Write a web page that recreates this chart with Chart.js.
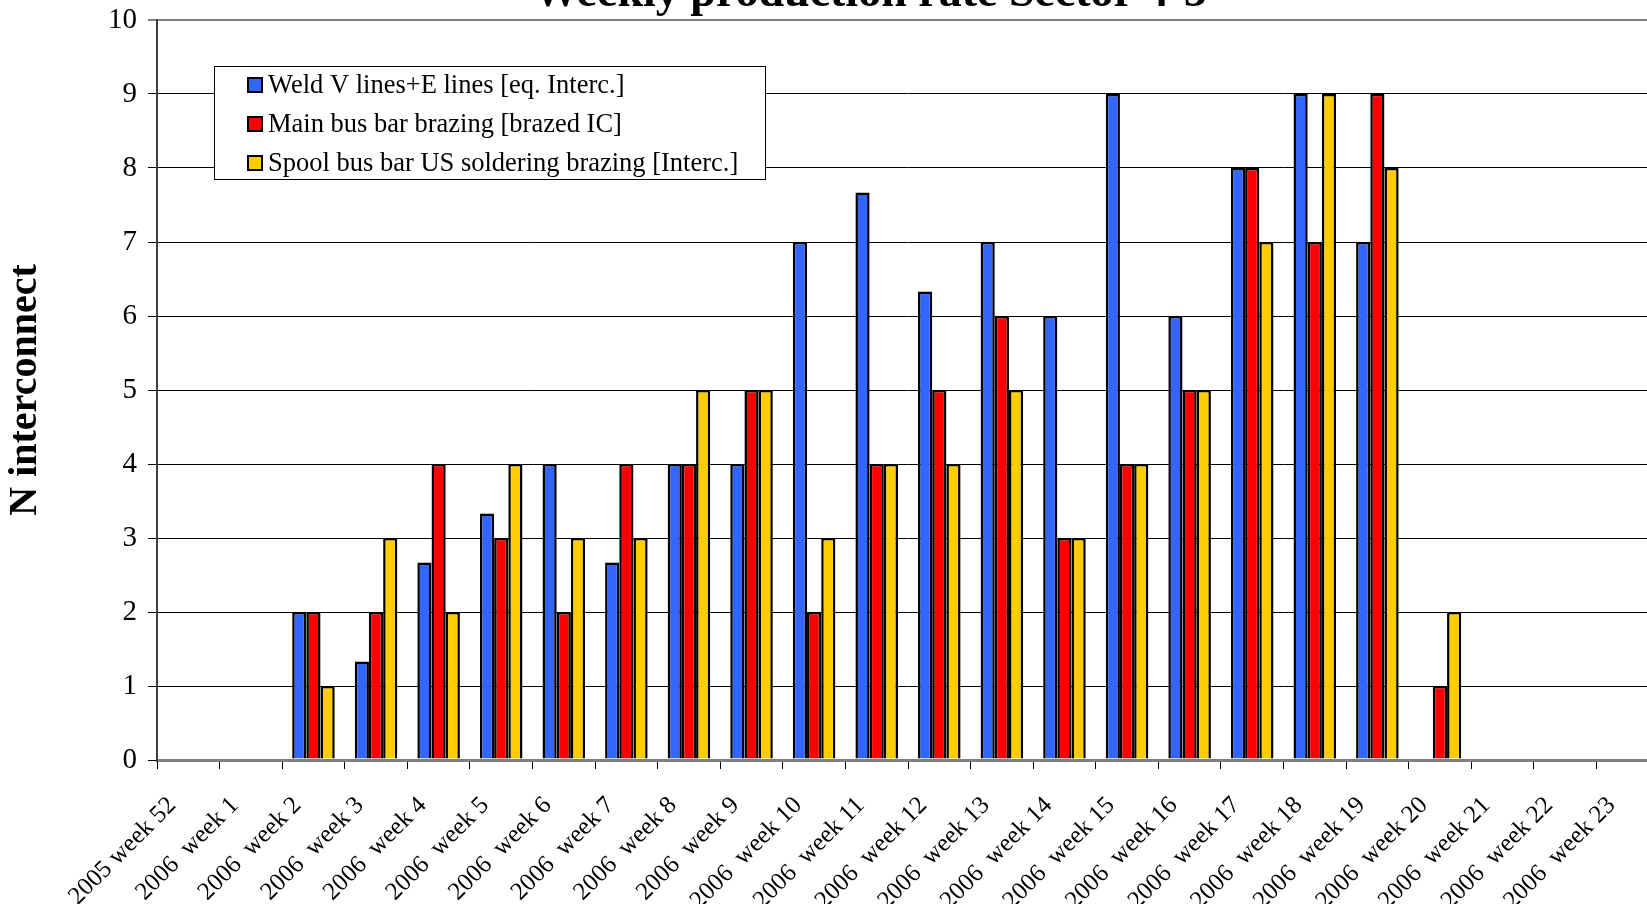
<!DOCTYPE html>
<html>
<head>
<meta charset="utf-8">
<title>Weekly production rate Sector 4-5</title>
<script src="https://cdn.jsdelivr.net/npm/chart.js@4"></script>
<style>
    html, body {
        margin: 0;
        padding: 0;
        background: #fff;
        overflow: hidden;
    }
    #frame {
        width: 1647px;
        height: 904px;
        overflow: hidden;
        position: relative;
    }
    #box {
        position: absolute;
        left: 0;
        top: 0;
        width: 1680px;
        height: 904px;
    }
</style>
</head>
<body>
<div id="frame">
    <div id="box"><canvas id="rate"></canvas></div>
</div>
<script>
const weeks = [
    "2005 week 52", "2006  week 1", "2006  week 2", "2006  week 3", "2006  week 4",
    "2006  week 5", "2006  week 6", "2006  week 7", "2006  week 8", "2006  week 9",
    "2006  week 10", "2006  week 11", "2006  week 12", "2006  week 13", "2006  week 14",
    "2006  week 15", "2006  week 16", "2006  week 17", "2006  week 18", "2006  week 19",
    "2006  week 20", "2006  week 21", "2006  week 22", "2006  week 23"
];

const weldLines = [0, 0, 2, 1.33, 2.67, 3.33, 4, 2.67, 4, 4, 7, 7.67, 6.33, 7, 6, 9, 6, 8, 9, 7, 0, 0, 0, 0];
const mainBusBar = [0, 0, 2, 2, 4, 3, 2, 4, 4, 5, 2, 4, 5, 6, 3, 4, 5, 8, 7, 9, 1, 0, 0, 0];
const spoolBusBar = [0, 0, 1, 3, 2, 4, 3, 3, 5, 5, 3, 4, 4, 5, 3, 4, 5, 7, 9, 8, 2, 0, 0, 0];

const yTicks = [0, 1, 2, 3, 4, 5, 6, 7, 8, 9, 10];

const SERIF = "'Liberation Serif', 'Times New Roman', serif";

// title sits partly above the top edge, like the cropped original
const titlePlugin = {
    id: "cutTitle",
    afterDraw(chart) {
        const ctx = chart.ctx;
        ctx.save();
        ctx.font = "bold 46px " + SERIF;
        ctx.fillStyle = "#000";
        ctx.textAlign = "center";
        ctx.textBaseline = "alphabetic";
        ctx.fillText("Weekly production rate Sector 4-5", 870, 6);
        ctx.restore();
    }
};

// boxed legend inside the plot area
const boxLegend = {
    id: "boxLegend",
    afterDatasetsDraw(chart) {
        const ctx = chart.ctx;
        const sets = chart.data.datasets;
        ctx.save();
        ctx.fillStyle = "#fff";
        ctx.fillRect(214, 66, 551, 113);
        ctx.strokeStyle = "#000";
        ctx.lineWidth = 1;
        ctx.strokeRect(214.5, 66.5, 551, 113);

        ctx.font = "26.5px " + SERIF;
        ctx.textBaseline = "middle";
        ctx.textAlign = "left";
        for (let i = 0; i < sets.length; i++) {
            const cy = 85 + i * 39;
            ctx.fillStyle = sets[i].backgroundColor;
            ctx.fillRect(248, cy - 7, 14, 14);
            ctx.lineWidth = 2;
            ctx.strokeStyle = "#000";
            ctx.strokeRect(248, cy - 7, 14, 14);
            ctx.fillStyle = "#000";
            ctx.fillText(sets[i].label, 268, cy + 1);
        }
        ctx.restore();
    }
};

const ctx = document.getElementById("rate").getContext("2d");

new Chart(ctx, {
    type: "bar",
    data: {
        labels: weeks,
        datasets: [{
            label: "Weld V lines+E lines [eq. Interc.]",
            data: weldLines,
            backgroundColor: "#3366FF",
            borderColor: "#000",
            borderWidth: 2.5,
        }, {
            label: "Main bus bar brazing [brazed IC]",
            data: mainBusBar,
            backgroundColor: "#FF0000",
            borderColor: "#000",
            borderWidth: 2.5,
        }, {
            label: "Spool bus bar US soldering brazing [Interc.]",
            data: spoolBusBar,
            backgroundColor: "#FFCC00",
            borderColor: "#000",
            borderWidth: 2.5,
        }]
    },
    options: {
        responsive: true,
        maintainAspectRatio: false,
        animation: false,
        devicePixelRatio: 1,
        layout: {
            padding: { top: 20, right: 21, bottom: 0, left: 0 }
        },
        datasets: {
            bar: {
                categoryPercentage: 0.68,
                barPercentage: 1.0,
            }
        },
        plugins: {
            legend: { display: false },
            title: { display: false },
            tooltip: { enabled: false },
        },
        scales: {
            x: {
                grid: {
                    drawOnChartArea: false,
                    drawTicks: true,
                    tickLength: 9,
                    tickColor: "#000",
                    tickWidth: 1,
                },
                border: { display: false },
                ticks: {
                    autoSkip: false,
                    maxRotation: 45,
                    minRotation: 45,
                    padding: 22,
                    labelOffset: -16,
                    color: "#000",
                    font: { family: SERIF, size: 25 },
                },
                afterFit: (scale) => { scale.height = 144; }
            },
            y: {
                min: 0,
                max: 10,
                afterBuildTicks: (scale) => {
                    scale.ticks = yTicks.map(v => ({ value: v }));
                },
                grid: {
                    color: (c) => (c.tick && (c.tick.value === 0 || c.tick.value === 10)) ? "#808080" : "#000",
                    lineWidth: (c) => {
                        if (!c.tick) return 1;
                        if (c.tick.value === 0) return 3;
                        if (c.tick.value === 10) return 2;
                        return 1;
                    },
                    tickLength: 9,
                    tickColor: "#000",
                    tickWidth: 1,
                },
                border: { color: "#404040", width: 2 },
                ticks: {
                    padding: 11,
                    color: "#000",
                    font: { family: SERIF, size: 29 },
                },
                title: {
                    display: true,
                    text: "N interconnect",
                    color: "#000",
                    padding: { top: 2, bottom: 0 },
                    font: { family: SERIF, size: 40, weight: "bold" },
                },
                afterFit: (scale) => {
                    scale.width = 157;
                    scale.paddingTop = 0;
                    scale.paddingBottom = 0;
                }
            }
        }
    },
    plugins: [titlePlugin, boxLegend]
});
</script>
</body>
</html>
